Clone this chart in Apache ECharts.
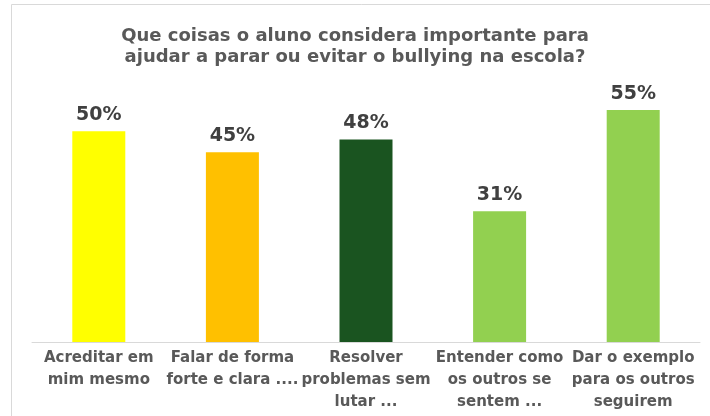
<!DOCTYPE html>
<html><head><meta charset="utf-8">
<script src="https://cdn.jsdelivr.net/npm/echarts@6/dist/echarts.min.js"></script>
<style>html,body{margin:0;padding:0;background:#fff}#c{width:710px;height:416px}</style>
</head><body><div id="c"></div>
<script>
const titleText = "Que coisas o aluno considera importante para\najudar a parar ou evitar o bullying na escola?";
const categories = ["Acreditar em\nmim mesmo", "Falar de forma\nforte e clara ....", "Resolver\nproblemas sem\nlutar ...", "Entender como\nos outros se\nsentem ...", "Dar o exemplo\npara os outros\nseguirem"];
const values = [50, 45, 48, 31, 55];
const colors = ["#FFFF00", "#FFC000", "#1A5420", "#92D050", "#92D050"];
const FONT = "'DejaVu Sans', sans-serif";
const chart = echarts.init(document.getElementById('c'));
chart.setOption({
  animation: false,
  graphic: [{type:'rect', shape:{x:11.5,y:4.5,width:720,height:430}, style:{fill:'none', stroke:'#d9d9d9', lineWidth:1}, z:-1}],
  title: {text: titleText, left: 'center', top: 21,
    textStyle:{fontFamily:FONT, fontWeight:'bold', fontSize:18, color:'#595959', lineHeight:21}},
  grid: {left: 32, right: 10, top: 89, bottom: 74},
  xAxis: {type:'category', data: categories,
    axisLine:{lineStyle:{color:'#d9d9d9'}}, axisTick:{show:false},
    axisLabel:{interval:0, margin:5, fontFamily:FONT, fontWeight:'bold', fontSize:15, color:'#595959', lineHeight:22}},
  yAxis: {type:'value', min:0, max:60, show:false, splitLine:{show:false}},
  series: [{type:'bar', barWidth:53,
    data: values.map((v,i)=>({value:v, itemStyle:{color:colors[i]}})),
    label:{show:true, position:'top', distance:7, formatter:'{c}%', fontFamily:FONT, fontWeight:'bold', fontSize:19, color:'#404040'}}]
});
</script></body></html>
